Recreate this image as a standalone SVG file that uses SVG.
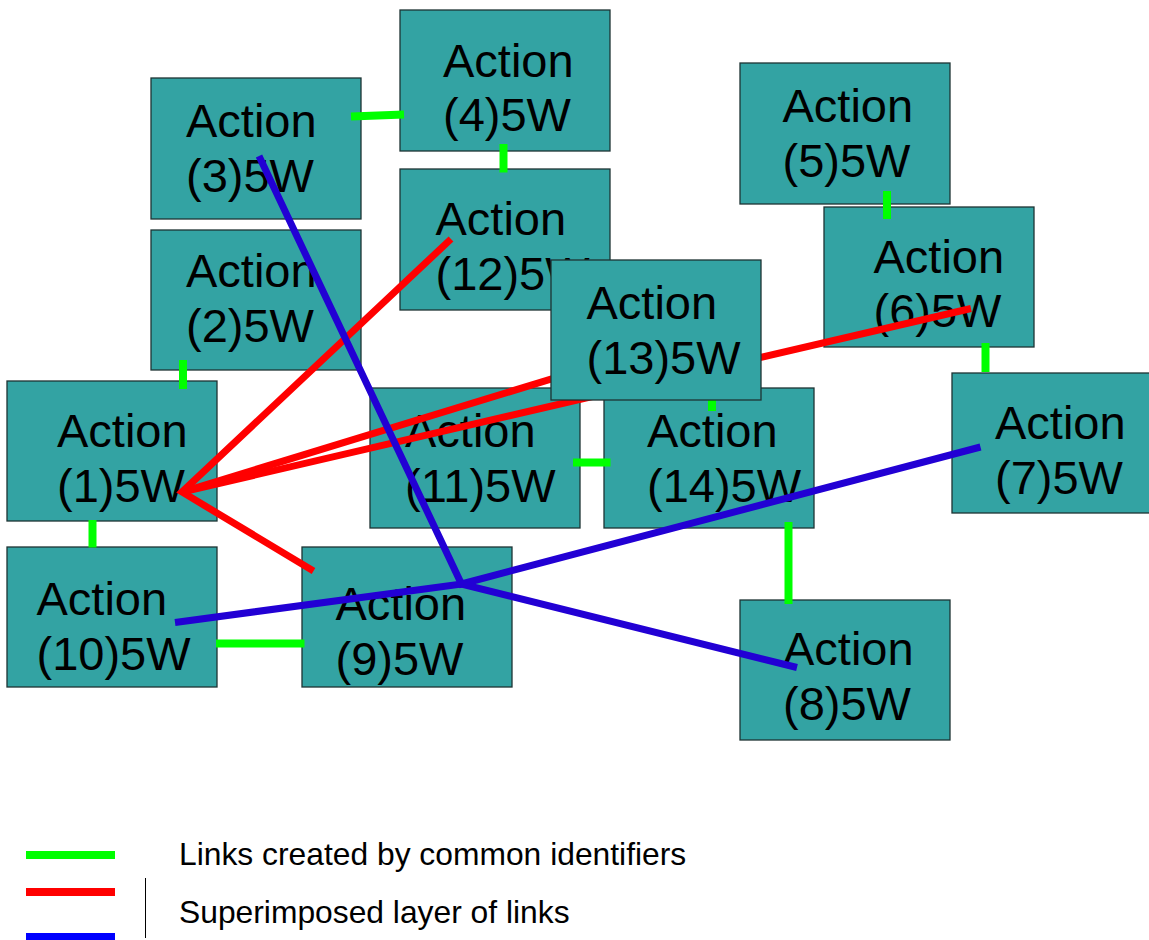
<svg xmlns="http://www.w3.org/2000/svg" width="1149" height="940" viewBox="0 0 1149 940">
<style>
.box{fill:#33a3a3;stroke:#1e3333;stroke-width:1.3}
.lbl{font-family:"Liberation Sans",Arial,sans-serif;font-size:47px;fill:#000}
.g{stroke:#00ff00;stroke-width:8;fill:none}
.r{stroke:#ff0000;stroke-width:7;fill:none}
.b{stroke:#2200d4;stroke-width:7;fill:none}
.leg{font-family:"Liberation Sans",Arial,sans-serif;font-size:31.8px;fill:#000}
</style>
<rect width="1149" height="940" fill="#ffffff"/>
<g id="node1"><rect class="box" x="7" y="381" width="210" height="140"/><text class="lbl" x="57" y="447">Action</text><text class="lbl" x="57" y="502">(1)5W</text></g>
<g id="node2"><rect class="box" x="151" y="230" width="210" height="140"/><text class="lbl" x="186" y="287">Action</text><text class="lbl" x="186" y="342">(2)5W</text></g>
<g id="node3"><rect class="box" x="151" y="78" width="210" height="141"/><text class="lbl" x="186" y="137">Action</text><text class="lbl" x="186" y="192">(3)5W</text></g>
<g id="node4"><rect class="box" x="400" y="10" width="210" height="141"/><text class="lbl" x="443" y="77">Action</text><text class="lbl" x="443" y="131">(4)5W</text></g>
<g id="node5"><rect class="box" x="740" y="63" width="210" height="141"/><text class="lbl" x="782.5" y="122">Action</text><text class="lbl" x="782.5" y="177">(5)5W</text></g>
<g id="node6"><rect class="box" x="824" y="207" width="210" height="140"/><text class="lbl" x="873.5" y="272.5">Action</text><text class="lbl" x="873.5" y="327">(6)5W</text></g>
<g id="node7"><rect class="box" x="952" y="373" width="210" height="140"/><text class="lbl" x="995" y="439">Action</text><text class="lbl" x="995" y="494">(7)5W</text></g>
<g id="node8"><rect class="box" x="740" y="600" width="210" height="140"/><text class="lbl" x="783" y="665">Action</text><text class="lbl" x="783" y="720">(8)5W</text></g>
<g id="node9"><rect class="box" x="302" y="547" width="210" height="140"/><text class="lbl" x="335.5" y="620">Action</text><text class="lbl" x="335.5" y="675">(9)5W</text></g>
<g id="node10"><rect class="box" x="7" y="547" width="210" height="140"/><text class="lbl" x="36.5" y="615">Action</text><text class="lbl" x="36.5" y="670">(10)5W</text></g>
<g id="node11"><rect class="box" x="370" y="388" width="210" height="140"/><text class="lbl" x="405" y="447">Action</text><text class="lbl" x="405" y="502">(11)5W</text></g>
<g id="node12"><rect class="box" x="400" y="169" width="210" height="141"/><text class="lbl" x="435.5" y="235">Action</text><text class="lbl" x="435.5" y="290">(12)5W</text></g>
<g id="node14"><rect class="box" x="604" y="388" width="210" height="140"/><text class="lbl" x="647" y="447">Action</text><text class="lbl" x="647" y="502">(14)5W</text></g>
<g id="connectors">
<line class="g" x1="351" y1="116.5" x2="404" y2="114.5"/>
<line class="g" x1="503.5" y1="144" x2="503.5" y2="172.5"/>
<line class="g" x1="887" y1="191" x2="887" y2="219"/>
<line class="g" x1="985.5" y1="343" x2="985.5" y2="372"/>
<line class="g" x1="183" y1="360" x2="183" y2="389"/>
<line class="g" x1="92.5" y1="520" x2="92.5" y2="547.5"/>
<line class="g" x1="216" y1="643.5" x2="304.5" y2="643.5"/>
<line class="g" x1="573" y1="462.5" x2="610.5" y2="462.5"/>
<line class="g" x1="712" y1="395" x2="712" y2="411"/>
<line class="g" x1="788.5" y1="522" x2="788.5" y2="604"/>
<polyline class="r" points="451,239 182,492 313.5,571"/>
<line class="r" x1="182" y1="492" x2="620" y2="358"/>
<line class="r" x1="182" y1="492" x2="971" y2="308.5"/>
<polyline class="b" points="259,156 461.5,584 980.5,447"/>
<polyline class="b" points="175,622.5 461.5,584 797,667.5"/>
</g>
<g id="node13"><rect class="box" x="551" y="260" width="210" height="140"/><text class="lbl" x="586.5" y="318.5">Action</text><text class="lbl" x="586.5" y="373.5">(13)5W</text></g>
<g id="legend">
<line x1="26" y1="855" x2="115" y2="855" stroke="#00ff00" stroke-width="8"/>
<line x1="26" y1="892" x2="115" y2="892" stroke="#ff0000" stroke-width="8"/>
<line x1="26" y1="937" x2="115" y2="937" stroke="#0000ff" stroke-width="8"/>
<line x1="145.5" y1="878" x2="145.5" y2="938" stroke="#000" stroke-width="1"/>
<text class="leg" x="179" y="865">Links created by common identifiers</text>
<text class="leg" x="179" y="923">Superimposed layer of links</text>
</g>
</svg>
